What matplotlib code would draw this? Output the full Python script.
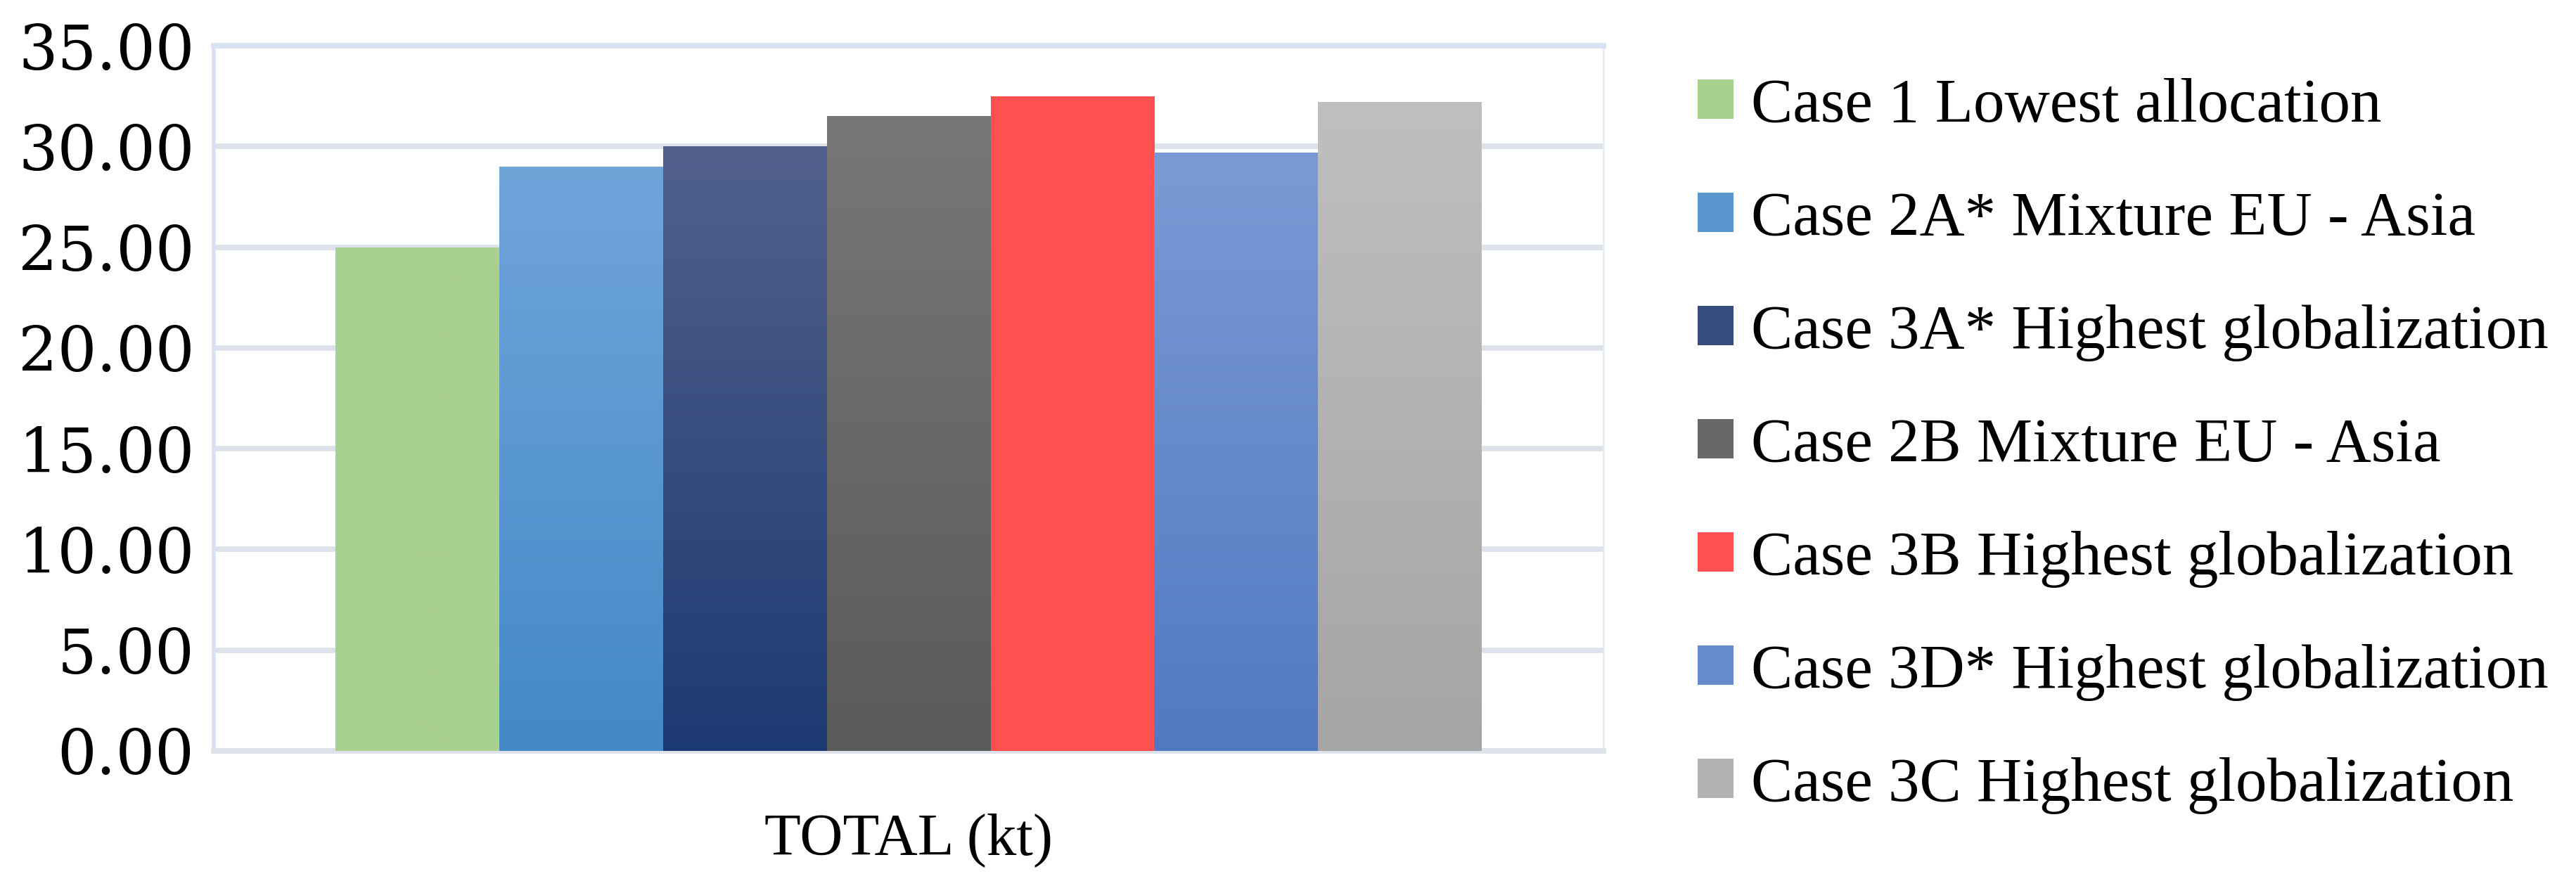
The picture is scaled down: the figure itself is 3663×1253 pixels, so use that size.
import numpy as np
import matplotlib
matplotlib.use('Agg')
import matplotlib.pyplot as plt
from matplotlib.colors import LinearSegmentedColormap

# data
cases = ['Case 1 Lowest allocation',
         'Case 2A* Mixture EU - Asia',
         'Case 3A* Highest globalization',
         'Case 2B Mixture EU - Asia',
         'Case 3B Highest globalization',
         'Case 3D* Highest globalization',
         'Case 3C Highest globalization']
totals = [25.0, 29.0, 30.0, 31.5, 32.5, 29.7, 32.2]
category = ['TOTAL (kt)']
yticks = [0, 5, 10, 15, 20, 25, 30, 35]

# top / bottom colours of the gradient fill
tops = ['#A9D18E', '#70A5DA', '#52618C', '#777777', '#FF5050', '#7B9AD5', '#BFBFBF']
bots = ['#A9D18E', '#4389C8', '#1C3A72', '#5A5A5A', '#FF5050', '#5179C2', '#A5A5A5']
mids = ['#A9D18E', '#5A97D1', '#374D7F', '#686868', '#FF5050', '#668ACB', '#B2B2B2']

fig = plt.figure(figsize=(36.63, 12.53), dpi=100)
ax = fig.add_axes([0.083, 0.1477, 0.6225 - 0.083, 0.948 - 0.1477])

group = 0.825
w = group / len(cases)
x0 = 0 - group / 2 + w / 2
bars = []
for i, (lab, v) in enumerate(zip(cases, totals)):
    b = ax.bar(x0 + i * w, v, width=w, color=mids[i], label=lab, zorder=3)
    bars.append(b)
    # gradient overlay clipped to the bar
    cmap = LinearSegmentedColormap.from_list('g%d' % i, [bots[i], tops[i]])
    grad = np.linspace(0, 1, 256).reshape(-1, 1)
    rect = b.patches[0]
    im = ax.imshow(grad, cmap=cmap, aspect='auto', origin='lower',
                   extent=[rect.get_x(), rect.get_x() + w, 0, v], zorder=4)
    im.set_clip_path(rect)

ax.set_xlim(-0.5, 0.5)
ax.set_ylim(0, 35)
ax.set_yticks(yticks)
ax.set_yticklabels(['%.2f' % t for t in yticks], family='DejaVu Serif', fontsize=63)
ax.set_xticks([0])
ax.set_xticklabels(category, family='Liberation Serif', fontsize=61)
ax.tick_params(axis='both', length=0)
ax.tick_params(axis='y', pad=20)
ax.tick_params(axis='x', pad=64)

ax.grid(axis='y', color='#DDE2EA', linewidth=5.5, zorder=0)
for s in ['left', 'top']:
    ax.spines[s].set_color('#D9E2F3')
    ax.spines[s].set_linewidth(4)
ax.spines['right'].set_color('#E6ECF6')
ax.spines['right'].set_linewidth(2)
ax.spines['top'].set_linewidth(5.5)
ax.spines['bottom'].set_color('#DDE2EA')
ax.spines['bottom'].set_linewidth(5.5)

fig.legend(handles=[b.patches[0] for b in bars], labels=cases,
           loc='center left', bbox_to_anchor=(0.659, 0.494),
           frameon=False, borderpad=0, borderaxespad=0,
           prop={'family': 'Liberation Serif', 'size': 64},
           handlelength=0.58, handleheight=0.58, handletextpad=0.28,
           labelspacing=0.9)

fig.savefig('out.png', dpi=100)
